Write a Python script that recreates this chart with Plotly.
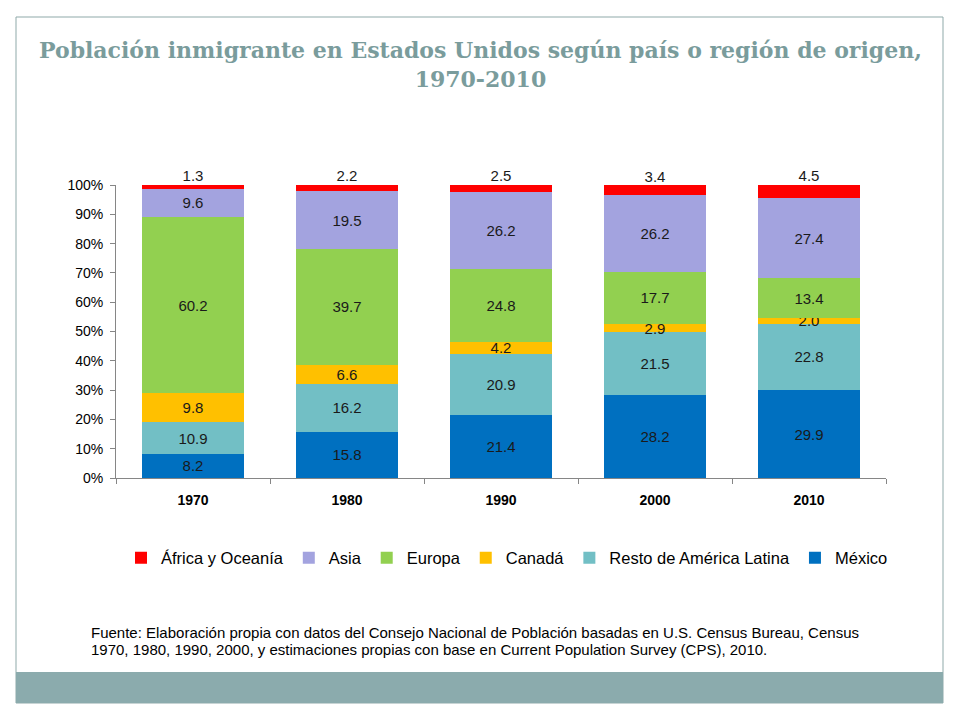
import plotly.graph_objects as go

years = ["1970", "1980", "1990", "2000", "2010"]

mexico = [8.2, 15.8, 21.4, 28.2, 29.9]
resto_al = [10.9, 16.2, 20.9, 21.5, 22.8]
canada = [9.8, 6.6, 4.2, 2.9, 2.0]
europa = [60.2, 39.7, 24.8, 17.7, 13.4]
asia = [9.6, 19.5, 26.2, 26.2, 27.4]
africa_oceania = [1.3, 2.2, 2.5, 3.4, 4.5]

# bottom to top
series = [
    ("México", mexico, "#0070C0"),
    ("Resto de América Latina", resto_al, "#72BFC5"),
    ("Canadá", canada, "#FFC000"),
    ("Europa", europa, "#92D050"),
    ("Asia", asia, "#A3A3DF"),
    ("África y Oceanía", africa_oceania, "#FF0000"),
]

FONT = "Liberation Sans, Arial, sans-serif"

# the page body has an 8px margin, so the figure is a bit smaller
# and all positions below are screen pixels minus that offset
OFF = 8
W, H = 960 - OFF, 720 - OFF
L, R, T, B = 116 - OFF, 886 - OFF, 185 - OFF, 478 - OFF
PW, PH = R - L, B - T


def px(x):
    return (x - OFF - L) / PW


def py(y):
    return (B - (y - OFF)) / PH


fig = go.Figure()

for name, vals, color in series:
    is_top = name == "África y Oceanía"
    fig.add_trace(
        go.Bar(
            x=years,
            y=vals,
            name=name,
            marker=dict(color=color, line=dict(width=0)),
            text=None if is_top else [f"{v:.1f}" for v in vals],
            textposition="inside",
            insidetextanchor="middle",
            constraintext="none",
            textfont=dict(family=FONT, size=15, color="#1a1a1a"),
            hoverinfo="x+y+name",
        )
    )

# labels for the top segment sit on the top edge of the bars
fig.add_trace(
    go.Scatter(
        x=years,
        y=[sum(col) for col in zip(*[s[1] for s in series])],
        mode="text",
        text=[f"{v:.1f}" for v in africa_oceania],
        textposition="top center",
        textfont=dict(family=FONT, size=15, color="#1a1a1a"),
        cliponaxis=False,
        showlegend=False,
        hoverinfo="skip",
    )
)

annotations = [
    # title
    dict(
        x=px(480), y=py(64), xref="paper", yref="paper",
        text="<b>Población inmigrante en Estados Unidos según país o región de origen,<br>1970-2010</b>",
        showarrow=False, xanchor="center", yanchor="middle",
        font=dict(family="DejaVu Serif, Georgia, serif", size=22, color="#7A9C9C"),
    ),
    # source note, one annotation per line
    dict(
        x=px(89), y=py(632), xref="paper", yref="paper",
        text="Fuente: Elaboración propia con datos del Consejo Nacional de Población basadas en U.S. Census Bureau, Census",
        showarrow=False, xanchor="left", yanchor="middle", align="left",
        font=dict(family=FONT, size=15, color="#000000"),
    ),
    dict(
        x=px(89), y=py(649), xref="paper", yref="paper",
        text="1970, 1980, 1990, 2000, y estimaciones propias con base en Current Population Survey (CPS), 2010.",
        showarrow=False, xanchor="left", yanchor="middle", align="left",
        font=dict(family=FONT, size=15, color="#000000"),
    ),
]

shapes = [
    # slide border
    dict(type="rect", xref="paper", yref="paper",
         x0=px(16), x1=px(943), y0=py(703), y1=py(17),
         line=dict(color="#8FA9A9", width=1), fillcolor="rgba(0,0,0,0)", layer="below"),
    # bottom band
    dict(type="rect", xref="paper", yref="paper",
         x0=px(16), x1=px(943), y0=py(703), y1=py(672),
         line=dict(width=0), fillcolor="#8BABAD", layer="below"),
]

fig.update_layout(
    width=W,
    height=H,
    barmode="stack",
    bargap=0.34,
    paper_bgcolor="white",
    plot_bgcolor="white",
    margin=dict(l=L, r=W - R, t=T, b=H - B),
    font=dict(family=FONT, color="#000000"),
    showlegend=True,
    legend=dict(
        orientation="h",
        traceorder="reversed",
        x=px(507), y=py(558), xanchor="center", yanchor="middle",
        font=dict(family=FONT, size=16.5, color="#000000"),
        itemwidth=30,
    ),
    annotations=annotations,
    shapes=shapes,
)

fig.update_xaxes(
    type="category",
    showline=True, linecolor="#868686", linewidth=1,
    ticks="outside", tickson="boundaries", ticklen=5, tickcolor="#868686",
    ticklabelstandoff=9,
    tickfont=dict(family=FONT, size=14, color="#000000", weight="bold"),
    showgrid=False,
)
fig.update_yaxes(
    range=[0, 100], dtick=10, ticksuffix="%",
    showline=True, linecolor="#868686", linewidth=1,
    ticks="outside", ticklen=5, tickcolor="#868686",
    ticklabelstandoff=4,
    tickfont=dict(family=FONT, size=14, color="#000000"),
    showgrid=False, zeroline=False,
)

fig.write_html("out.html")
